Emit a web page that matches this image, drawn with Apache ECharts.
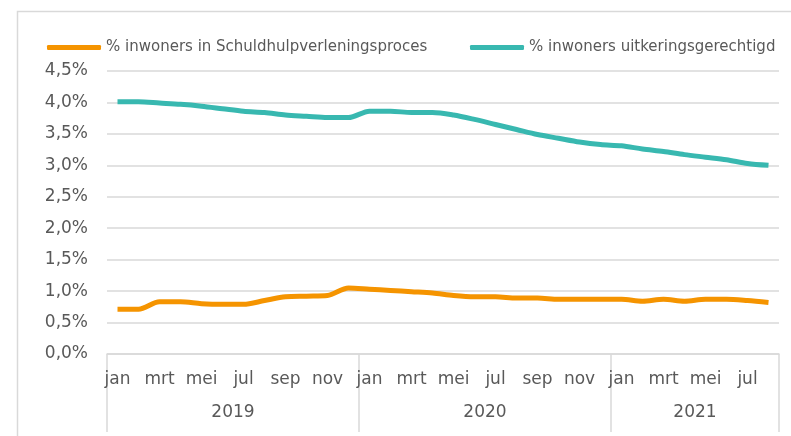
<!DOCTYPE html>
<html>
<head>
    <meta charset="utf-8">
    <title>Schuldhulpverlening en uitkeringen</title>
    <style>
        html, body { margin: 0; padding: 0; background: #fff; }
        #container { width: 791px; height: 436px; }
    </style>
</head>
<body>
<div id="container"></div>
<script src="https://cdn.jsdelivr.net/npm/echarts@6/dist/echarts.min.js"></script>
<script type="text/javascript">
    // maanden jan 2019 t/m aug 2021
    var maanden = ['jan', 'feb', 'mrt', 'apr', 'mei', 'jun', 'jul', 'aug', 'sep', 'okt', 'nov', 'dec',
        'jan', 'feb', 'mrt', 'apr', 'mei', 'jun', 'jul', 'aug', 'sep', 'okt', 'nov', 'dec',
        'jan', 'feb', 'mrt', 'apr', 'mei', 'jun', 'jul', 'aug'];
    var jaren = ['2019', '2020', '2021'];
    var jaarStart = [0, 12, 24]; // index van de eerste maand per jaar
    var jaarLabelIdx = [6, 18, 28]; // label net rechts van het midden van elk jaar

    var naamSchuld = '% inwoners in Schuldhulpverleningsproces';
    var naamUitkering = '% inwoners uitkeringsgerechtigd';

    var schuldhulp = [0.71, 0.71, 0.83, 0.83, 0.80, 0.79, 0.79, 0.85, 0.91, 0.92, 0.93, 1.05,
        1.03, 1.01, 0.99, 0.97, 0.93, 0.91, 0.91, 0.89, 0.89, 0.87, 0.87, 0.87,
        0.87, 0.84, 0.87, 0.84, 0.87, 0.87, 0.85, 0.82];
    var uitkering = [4.01, 4.01, 3.99, 3.97, 3.94, 3.90, 3.86, 3.84, 3.80, 3.78, 3.76, 3.76,
        3.86, 3.86, 3.84, 3.84, 3.80, 3.73, 3.65, 3.57, 3.49, 3.43, 3.37, 3.33,
        3.31, 3.26, 3.22, 3.17, 3.13, 3.09, 3.03, 3.00];

    var grijs = '#595959';
    var lijn = '#d9d9d9';

    var myChart = echarts.init(document.getElementById('container'));

    myChart.setOption({
        animation: false,
        backgroundColor: '#fff',
        textStyle: { fontFamily: 'DejaVu Sans, sans-serif' },
        graphic: [{ // kader om de grafiek
            type: 'rect',
            shape: { x: 17.5, y: 11.5, width: 800, height: 500 },
            style: { fill: 'none', stroke: lijn, lineWidth: 1.5 },
            silent: true
        }],
        legend: [{
            data: [naamSchuld],
            left: 47,
            top: 40,
            padding: 0,
            icon: 'roundRect',
            itemWidth: 54,
            itemHeight: 5,
            textStyle: { color: grijs, fontSize: 15 }
        }, {
            data: [naamUitkering],
            left: 470,
            top: 40,
            padding: 0,
            icon: 'roundRect',
            itemWidth: 54,
            itemHeight: 5,
            textStyle: { color: grijs, fontSize: 15 }
        }],
        grid: { left: 107, right: 12, top: 71, bottom: 82 },
        xAxis: [{
            type: 'category',
            data: maanden,
            boundaryGap: true,
            axisLine: { lineStyle: { color: lijn, width: 1.5 } },
            axisTick: { show: false },
            axisLabel: { interval: 1, color: grijs, fontSize: 17, margin: 17 }
        }, {
            // jaartallen met scheidingslijnen
            type: 'category',
            data: maanden,
            position: 'bottom',
            boundaryGap: true,
            axisLine: { show: false },
            axisTick: {
                show: true,
                length: 78,
                interval: function (i) { return jaarStart.indexOf(i) >= 0; },
                lineStyle: { color: lijn, width: 1.5 }
            },
            axisLabel: {
                color: grijs,
                fontSize: 17,
                margin: 50,
                padding: [0, 21, 0, 0],
                interval: function (i) { return jaarLabelIdx.indexOf(i) >= 0; },
                formatter: function (v, i) {
                    var k = jaarLabelIdx.indexOf(i);
                    return k >= 0 ? jaren[k] : '';
                }
            }
        }],
        yAxis: {
            type: 'value',
            min: 0,
            max: 4.5,
            interval: 0.5,
            axisLine: { show: false },
            axisTick: { show: false },
            splitLine: { lineStyle: { color: lijn, width: 1.5 } },
            axisLabel: {
                color: grijs,
                fontSize: 17,
                margin: 19,
                formatter: function (v) { return v.toFixed(1).replace('.', ',') + '%'; }
            }
        },
        series: [{
            name: naamSchuld,
            type: 'line',
            data: schuldhulp,
            smooth: 0.3,
            showSymbol: false,
            itemStyle: { color: '#F59400' },
            lineStyle: { color: '#F59400', width: 5 }
        }, {
            name: naamUitkering,
            type: 'line',
            data: uitkering,
            smooth: 0.3,
            showSymbol: false,
            itemStyle: { color: '#38B8B0' },
            lineStyle: { color: '#38B8B0', width: 5 }
        }]
    });
</script>
</body>
</html>
